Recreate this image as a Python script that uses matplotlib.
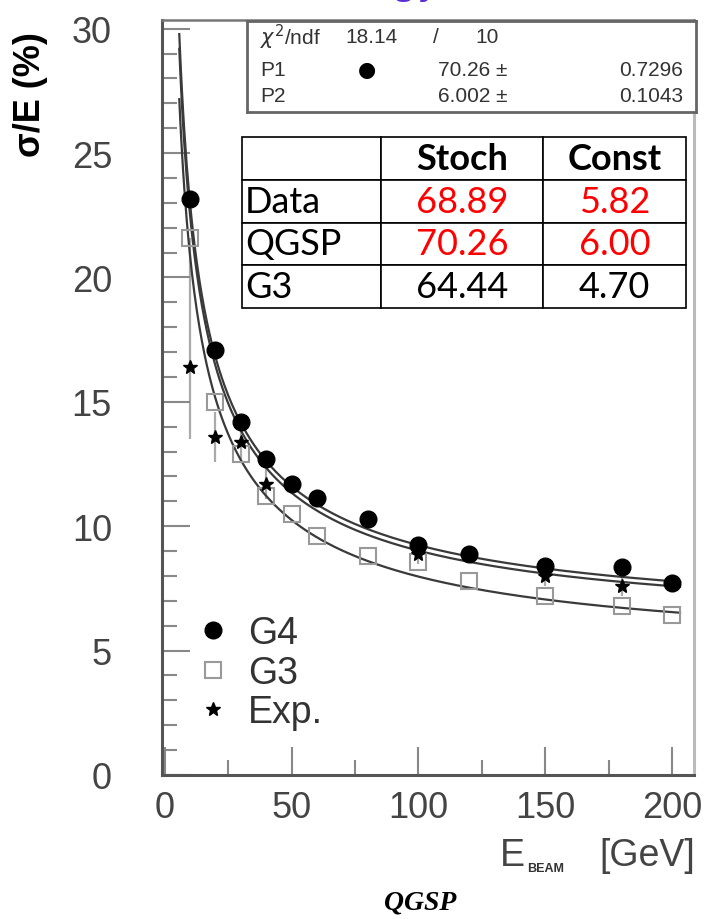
import numpy as np
import matplotlib
matplotlib.use("Agg")
import matplotlib.pyplot as plt
from matplotlib.lines import Line2D
from matplotlib.table import Table
from matplotlib.ticker import MultipleLocator

# ---- data ----
e_g4 = [10, 20, 30, 40, 50, 60, 80, 100, 120, 150, 180, 200]
res_g4 = [23.15, 17.1, 14.2, 12.7, 11.7, 11.15, 10.3, 9.25, 8.9, 8.4, 8.35, 7.7]

e_g3 = [10, 20, 30, 40, 50, 60, 80, 100, 120, 150, 180, 200]
res_g3 = [21.6, 15.0, 12.9, 11.2, 10.5, 9.6, 8.8, 8.55, 7.8, 7.2, 6.8, 6.45]

e_exp = [10, 20, 30, 40, 100, 150, 180]
res_exp = [16.4, 13.6, 13.4, 11.7, 8.9, 8.0, 7.6]
err_exp_lo = [2.9, 1.0, 0.8, 0.6, 0.4, 0.4, 0.4]
err_exp_hi = [5.2, 1.0, 0.8, 0.6, 0.4, 0.4, 0.4]

# fit parameters (stochastic %, constant %)
fit_names = ["Data", "QGSP", "G3"]
fit_stoch = [68.89, 70.26, 64.44]
fit_const = [5.82, 6.00, 4.70]
fit_colors = ["red", "red", "black"]

stat_chi2 = "18.14"
stat_ndf = "10"
stat_p = ["70.26", "6.002"]
stat_perr = ["0.7296", "0.1043"]

sans = ["Liberation Sans", "DejaVu Sans"]

fig = plt.figure(figsize=(7.17, 9.2), dpi=100)
ax = fig.add_axes([162 / 717, 1 - 776 / 920, (694 - 162) / 717, (776 - 21) / 920])

# fit curves
ee = np.linspace(5.8, 203, 400)
for a, b in zip(fit_stoch, fit_const):
    ax.plot(ee, np.sqrt(a ** 2 / ee + b ** 2), color="#3a3a3a", lw=1.6, zorder=2)

ax.errorbar(e_exp, res_exp, yerr=[err_exp_lo, err_exp_hi], fmt="none",
            ecolor="#aaaaaa", elinewidth=1.6, zorder=1)
ax.plot(e_g3, res_g3, ls="none", marker="s", ms=12, mfc="none",
        mec="#999999", mew=1.5, zorder=3)
ax.plot(e_g4, res_g4, ls="none", marker="o", ms=12, color="black", zorder=4)
ax.plot(e_exp, res_exp, ls="none", marker="*", ms=10, color="black", zorder=5)

ax.set_xlim(-1, 208.5)
ax.set_ylim(0, 30.35)
ax.xaxis.set_major_locator(MultipleLocator(50))
ax.xaxis.set_minor_locator(MultipleLocator(25))
ax.yaxis.set_major_locator(MultipleLocator(5))
ax.yaxis.set_minor_locator(MultipleLocator(1))
ax.tick_params(which="both", direction="in", color="#888888", width=1.5,
               top=False, right=False)
ax.tick_params(which="major", length=20)
ax.tick_params(which="minor", length=11)
ax.tick_params(axis="x", pad=11)
ax.tick_params(axis="y", pad=36)
for lab in ax.get_xticklabels() + ax.get_yticklabels():
    lab.set_family(sans)
    lab.set_fontsize(26)
    lab.set_color("#444444")

for side in ["left", "bottom"]:
    ax.spines[side].set_color("#555555")
    ax.spines[side].set_linewidth(2.2)
ax.spines["top"].set_color("#777777")
ax.spines["top"].set_linewidth(1.8)
ax.spines["right"].set_color("#bbbbbb")
ax.spines["right"].set_linewidth(2.2)

# legend
handles = [
    Line2D([], [], ls="none", marker="o", ms=12, color="black"),
    Line2D([], [], ls="none", marker="s", ms=12, mfc="none", mec="#999999", mew=1.5),
    Line2D([], [], ls="none", marker="*", ms=10, color="black"),
]
leg = ax.legend(handles, ["G4", "G3", "Exp."], loc="upper left",
                bbox_to_anchor=(0.06, 0.212), frameon=False, borderpad=0,
                borderaxespad=0, handlelength=1.0, handletextpad=0.45,
                labelspacing=0.1, prop={"family": sans, "size": 27})
for t in leg.get_texts():
    t.set_color("#333333")

# axis labels
fig.text(30 / 717, 1 - 95 / 920, "σ/E (%)", rotation=90, ha="center", va="center",
         fontsize=26, fontweight="bold", family=sans)
fig.text(500 / 717, 1 - 856 / 920, "E", ha="left", va="center", fontsize=27,
         family=sans, color="#444444")
fig.text(527 / 717, 1 - 869 / 920, "BEAM", ha="left", va="center", fontsize=9,
         fontweight="bold", family=sans, color="#333333")
fig.text(695 / 717, 1 - 856 / 920, "[GeV]", ha="right", va="center", fontsize=27,
         family=sans, color="#444444")
fig.text(420 / 717, 1 - 903 / 920, "QGSP", ha="center", va="center", fontsize=20,
         fontweight="bold", fontstyle="italic", family=["Liberation Serif", "DejaVu Serif"])

# clipped title at the very top
fig.text(440 / 717, 1 + 6 / 920, "Energy", ha="right", va="baseline", fontsize=28,
         color="#5b2fd6")

# stats box
sax = fig.add_axes([247 / 717, 1 - 113 / 920, (696 - 247) / 717, (113 - 22) / 920])
sax.set_xticks([])
sax.set_yticks([])
for s in sax.spines.values():
    s.set_color("#666666")
    s.set_linewidth(2)
sfont = dict(family=sans, fontsize=15, color="#333333", va="center",
             transform=sax.transAxes)
sax.text(0.029, 0.835, r"$\chi^2$/ndf", ha="left", **sfont)
sax.text(0.335, 0.835, stat_chi2, ha="right", **sfont)
sax.text(0.414, 0.835, "/", ha="left", **sfont)
sax.text(0.508, 0.835, stat_ndf, ha="left", **sfont)
for i, yy in enumerate([0.47, 0.18]):
    sax.text(0.029, yy, "P%d" % (i + 1), ha="left", **sfont)
    sax.text(0.425, yy, stat_p[i] + " ±", ha="left", **sfont)
    sax.text(0.971, yy, stat_perr[i], ha="right", **sfont)
sax.text(0.267, 0.47, "●", ha="center", va="center", fontsize=15, color="black",
         transform=sax.transAxes)

# results table
tax = fig.add_axes([242 / 717, 1 - 309 / 920, (686 - 242) / 717, (309 - 138) / 920])
tax.axis("off")
tb = Table(tax, bbox=[0, 0, 1, 1])
col_w = [0.313, 0.365, 0.322]
rows = [["", "Stoch", "Const"]]
for n, s, c in zip(fit_names, fit_stoch, fit_const):
    rows.append([n, "%.2f" % s, "%.2f" % c])
for r, row in enumerate(rows):
    for c, txt in enumerate(row):
        cell = tb.add_cell(r, c, width=col_w[c], height=0.25, text=txt,
                           loc="left" if c == 0 else "center", facecolor="white",
                           edgecolor="black")
        cell.set_linewidth(1.2)
        if c == 0:
            cell.PAD = 0.02
        tp = cell.get_text()
        tp.set_family(["Lato", "DejaVu Sans"])
        if r == 0:
            tp.set_fontweight("bold")
        elif c > 0:
            tp.set_color(fit_colors[r - 1])
tb.auto_set_font_size(False)
tb.set_fontsize(26)
tax.add_table(tb)

fig.savefig("out.png", dpi=100)
